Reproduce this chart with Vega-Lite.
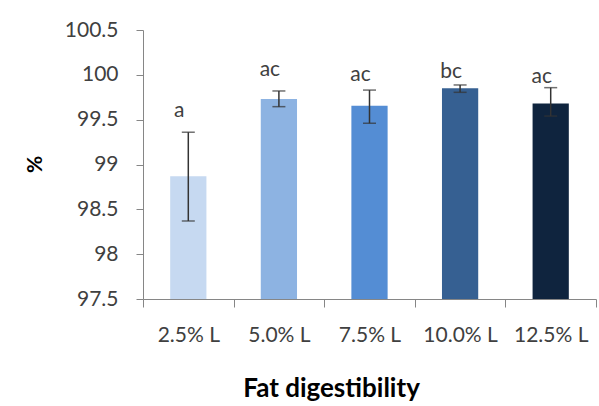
{
  "$schema": "https://vega.github.io/schema/vega-lite/v6.json",
  "width": 453,
  "height": 269,
  "autosize": "none",
  "padding": {"left": 143, "top": 30, "right": 3, "bottom": 107},
  "background": "white",
  "config": {
    "view": {"stroke": null},
    "font": "Lato"
  },
  "data": {
    "values": [
      {"group": "2.5% L", "mean": 98.87, "lo": 98.37, "hi": 99.36, "letter": "a", "label_y": 99.53},
      {"group": "5.0% L", "mean": 99.73, "lo": 99.645, "hi": 99.82, "letter": "ac", "label_y": 99.99},
      {"group": "7.5% L", "mean": 99.656, "lo": 99.46, "hi": 99.83, "letter": "ac", "label_y": 99.93},
      {"group": "10.0% L", "mean": 99.85, "lo": 99.805, "hi": 99.887, "letter": "bc", "label_y": 99.96},
      {"group": "12.5% L", "mean": 99.68, "lo": 99.54, "hi": 99.857, "letter": "ac", "label_y": 99.91}
    ]
  },
  "encoding": {
    "x": {
      "field": "group",
      "type": "nominal",
      "sort": null,
      "scale": {"paddingInner": 0, "paddingOuter": 0},
      "axis": {
        "title": "Fat digestibility",
        "titleFont": "Lato",
        "titleFontSize": 26,
        "titleFontWeight": "bold",
        "titleColor": "#000000",
        "titleX": 188,
        "titleY": 97,
        "titleBaseline": "alphabetic",
        "titleAlign": "center",
        "labelAngle": 0,
        "labelFont": "Lato",
        "labelFontSize": 21,
        "labelColor": "#404040",
        "labelPadding": 17,
        "tickBand": "extent",
        "tickSize": 8,
        "tickColor": "#868686",
        "domainColor": "#868686",
        "grid": false
      }
    }
  },
  "layer": [
    {
      "mark": {"type": "bar", "width": {"band": 0.4}},
      "encoding": {
        "y": {
          "field": "mean",
          "type": "quantitative",
          "scale": {"domain": [97.5, 100.5], "zero": false, "nice": false},
          "axis": {
            "title": "%",
            "titleFont": "Lato",
            "titleFontSize": 21,
            "titleFontWeight": "bold",
            "titleColor": "#000000",
            "titleX": -108,
            "titleY": 134,
            "titleAngle": -90,
            "titleBaseline": "middle",
            "titleAlign": "center",
            "values": [97.5, 98, 98.5, 99, 99.5, 100, 100.5],
            "labelExpr": "datum.value",
            "labelFont": "Lato",
            "labelFontSize": 21,
            "labelColor": "#404040",
            "labelPadding": 18,
            "tickSize": 7,
            "tickColor": "#868686",
            "domainColor": "#868686",
            "grid": false
          }
        },
        "y2": {"datum": 97.5},
        "color": {
          "field": "group",
          "type": "nominal",
          "sort": null,
          "scale": {"range": ["#c6d9f1", "#8db3e2", "#548dd4", "#366092", "#0f243e"]},
          "legend": null
        }
      }
    },
    {
      "mark": {"type": "rule", "color": "#333333", "strokeWidth": 1.5},
      "encoding": {
        "y": {"field": "lo", "type": "quantitative"},
        "y2": {"field": "hi"}
      }
    },
    {
      "mark": {"type": "tick", "color": "#333333", "thickness": 1.5, "size": 13, "orient": "horizontal"},
      "encoding": {
        "y": {"field": "lo", "type": "quantitative"}
      }
    },
    {
      "mark": {"type": "tick", "color": "#333333", "thickness": 1.5, "size": 13, "orient": "horizontal"},
      "encoding": {
        "y": {"field": "hi", "type": "quantitative"}
      }
    },
    {
      "mark": {"type": "text", "font": "Lato", "fontSize": 21, "color": "#404040", "baseline": "alphabetic", "dx": -9},
      "encoding": {
        "y": {"field": "label_y", "type": "quantitative"},
        "text": {"field": "letter"}
      }
    }
  ]
}
